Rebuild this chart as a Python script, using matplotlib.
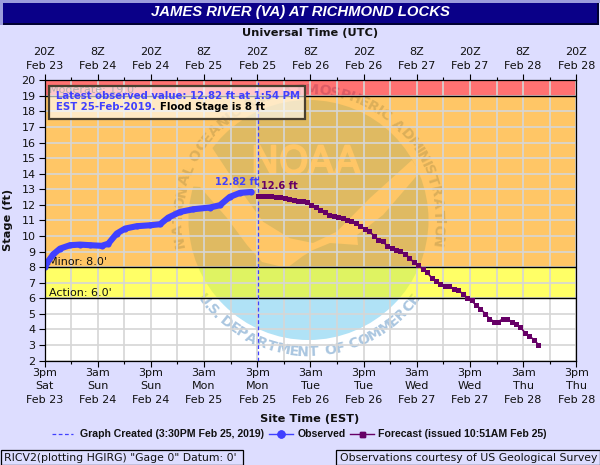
import numpy as np
import matplotlib
matplotlib.use("Agg")
import matplotlib.pyplot as plt
import matplotlib.patheffects as pe
from matplotlib.patches import Rectangle, Polygon, Circle
from matplotlib.transforms import Affine2D
from matplotlib.textpath import TextPath
from matplotlib.font_manager import FontProperties

# ---- data (hours since 3pm Feb 23, stage in ft) ----
obs_hours = [0, 0.34, 2.0, 3.5, 5.75, 8.0, 10.3, 12.9, 14.4, 16.3, 18.2, 20.8, 23.8, 26.1,
             27.9, 30.6, 33.6, 37.3, 39.6, 41.8, 44.1, 46.7]
obs_stage = [8.0, 8.19, 8.83, 9.19, 9.41, 9.45, 9.41, 9.37, 9.51, 10.16, 10.48, 10.63, 10.69, 10.76,
             11.18, 11.55, 11.72, 11.83, 11.98, 12.51, 12.77, 12.83]
fc_stage = [12.6, 12.6, 12.58, 12.55, 12.52, 12.5, 12.45, 12.38, 12.3, 12.25, 12.25, 12.2, 12.0, 11.85,
            11.7, 11.52, 11.37, 11.3, 11.2, 11.13, 11.03, 10.95, 10.83, 10.63, 10.45, 10.3, 10.03,
            9.75, 9.65, 9.38, 9.25, 9.13, 9.02, 8.83, 8.62, 8.30, 8.13, 7.89, 7.66, 7.33, 7.10,
            6.95, 6.80, 6.76, 6.63, 6.52, 6.29, 6.05, 5.86, 5.56, 5.34, 5.02, 4.70, 4.51, 4.51,
            4.66, 4.66, 4.51, 4.32, 4.13, 3.80, 3.57, 3.35, 3.03]
fc_hours = 48.2 + np.arange(len(fc_stage)) * 1.0035
created_hour = 48.1

top_ticks = ["20Z\nFeb 23", "8Z\nFeb 24", "20Z\nFeb 24", "8Z\nFeb 25", "20Z\nFeb 25", "8Z\nFeb 26",
             "20Z\nFeb 26", "8Z\nFeb 27", "20Z\nFeb 27", "8Z\nFeb 28", "20Z\nFeb 28"]
bottom_ticks = ["3pm\nSat\nFeb 23", "3am\nSun\nFeb 24", "3pm\nSun\nFeb 24", "3am\nMon\nFeb 25",
                "3pm\nMon\nFeb 25", "3am\nTue\nFeb 26", "3pm\nTue\nFeb 26", "3am\nWed\nFeb 27",
                "3pm\nWed\nFeb 27", "3am\nThu\nFeb 28", "3pm\nThu\nFeb 28"]
y_ticks = list(range(2, 21))
bands = [(19, 20, "#ff1414"), (8, 19, "#ffa000"), (6, 8, "#ffff00")]
stage_lines = [6, 8, 19]

BG = "#ddddff"; BLUE = "#4040ff"; PURPLE = "#660066"; GRID = "#d6d6d6"
LOGO = "#b0e2f6"; LOGOTXT = "#aac6e0"
W, H = 600, 465
TF = 8.0   # regular text size

fig = plt.figure(figsize=(W/100, H/100), dpi=100, facecolor=BG)
L, R, T, B = 44.5, 576.3, 80.3, 360.6
ax = fig.add_axes([L/W, 1-B/H, (R-L)/W, (B-T)/H])
ax.set_xlim(0, 120); ax.set_ylim(2, 20)
ax.set_facecolor("white")
px = Affine2D().scale(1, -1).translate(0, H)   # reference pixel coordinates

def ftext(x, y, s, **kw):
    kw.setdefault("ha", "center"); kw.setdefault("va", "center")
    return fig.text(x/W, 1-y/H, s, **kw)

# ---- seal behind the bands ----
cx, cy, r = 308.5, 220, 120
ax.add_patch(Circle((cx, cy), r, transform=px, fc=LOGO, ec="none", zorder=1))
gull = [(211, 146), (236.7, 185), (263, 221.7), (290, 238.3), (313, 243), (336.7, 231.7), (370, 198), (412, 160),
        (420, 172), (383, 215), (357, 235), (358, 245), (330, 243), (313, 250), (303, 256), (287, 268),
        (262, 262), (247, 245), (227, 218), (207, 195), (200, 187), (186, 186), (185, 150)]
ax.add_patch(Polygon(gull, closed=True, transform=px, fc="white", ec="none", zorder=1.1))
ax.text(305.5, 163, "NOAA", transform=px, color="white", fontsize=27, family="DejaVu Sans",
        ha="center", va="center", zorder=1.2, clip_on=True,
        path_effects=[pe.withStroke(linewidth=1.4, foreground="white")])

seal_fp = FontProperties(family="DejaVu Sans", weight="bold")
SEAL_PT = 10.2
def char_adv(ch):
    if ch == " ":
        return 5.0
    return TextPath((0, 0), ch, size=SEAL_PT*100/72, prop=seal_fp).get_extents().width + 1.0

def arc_text(s, mid, span, rad, bottom=False):
    adv = np.array([char_adv(c) for c in s])
    adv = adv * (np.radians(span) * rad) / adv.sum()
    pos = np.cumsum(adv) - adv/2 - adv.sum()/2
    for ch, p in zip(s, pos):
        a = mid + np.degrees(p/rad) if bottom else mid - np.degrees(p/rad)
        t = np.radians(a)
        x, y = cx + rad*np.cos(t), cy - rad*np.sin(t)
        rot = a + 90 if bottom else a - 90
        ax.text(x, y, ch, transform=px, color=LOGOTXT, fontsize=SEAL_PT, fontweight="bold",
                family="DejaVu Sans", ha="center", va="center", rotation=rot,
                rotation_mode="anchor", zorder=1.2, clip_on=True)

arc_text("NATIONAL OCEANIC AND ATMOSPHERIC ADMINISTRATION", 90, 204, 130)
arc_text("U.S. DEPARTMENT OF COMMERCE", 270, 110, 132, bottom=True)

# ---- flood bands ----
for lo, hi, c in bands:
    ax.axhspan(lo, hi, fc=c, ec="none", alpha=0.6, zorder=2)

# ---- grid and ticks ----
ax.set_xticks(np.arange(0, 121, 12))
ax.set_xticks(np.arange(6, 120, 12), minor=True)
ax.set_yticks(y_ticks)
ax.set_xticklabels(bottom_ticks, fontsize=TF, linespacing=1.4, color="#111111")
ax.set_yticklabels([str(v) for v in y_ticks], fontsize=TF, color="#111111")
ax.grid(True, which="both", color=GRID, lw=1.2, zorder=3)
ax.set_axisbelow(False)
for gl in ax.get_xgridlines() + ax.get_ygridlines():
    gl.set_zorder(3)
ax.tick_params(axis="x", which="major", length=4, width=0.8, top=True, pad=1.5)
ax.tick_params(axis="x", which="minor", length=2.5, width=0.8, top=True)
ax.tick_params(axis="y", length=4, width=0.8, pad=2.5)
for sp in ax.spines.values():
    sp.set_linewidth(0.9); sp.set_color("black"); sp.set_zorder(6)

for v in stage_lines:
    ax.axhline(v, color="black", lw=1.0, zorder=3.5)

top = ax.secondary_xaxis("top")
top.set_xticks(np.arange(0, 121, 12))
top.set_xticklabels(top_ticks, fontsize=TF, linespacing=1.4, color="#111111")
top.tick_params(axis="x", length=0, pad=7)
top.spines["top"].set_visible(False)

# ---- series ----
ax.axvline(created_hour, color=BLUE, lw=0.9, ls=(0, (3, 2)), zorder=4)
ax.plot(obs_hours, obs_stage, color=BLUE, lw=4.4, marker="o", ms=4.4, mew=0, solid_capstyle="round",
        solid_joinstyle="round", zorder=5)
ax.plot(fc_hours, fc_stage, color=PURPLE, lw=1.2, marker="s", ms=3.6, mew=0, zorder=5)

# ---- stage and point labels ----
ax.text(49, 90, "Moderate: 19.0'", transform=px, fontsize=TF, color="#333333", va="center", zorder=4)
ax.text(48, 262, "Minor: 8.0'", transform=px, fontsize=TF, color="#111111", va="center", zorder=4)
ax.text(49, 293, "Action: 6.0'", transform=px, fontsize=TF, color="#111111", va="center", zorder=4)
ax.text(215, 182, "12.82 ft", transform=px, fontsize=7.1, color=BLUE, fontweight="bold", va="center", zorder=6)
ax.text(261, 186, "12.6 ft", transform=px, fontsize=7.1, color=PURPLE, fontweight="bold", va="center", zorder=6)

# ---- latest value box ----
ax.add_patch(Rectangle((49, 86), 256, 33, transform=px, fc="#ffffff", alpha=0.62, ec="none", zorder=6.5, clip_on=False))
ax.add_patch(Rectangle((49, 86), 256, 33, transform=px, fill=False, ec="#4a4030", lw=1.6, zorder=6.6, clip_on=False))
ax.text(56, 96, "Latest observed value: 12.82 ft at 1:54 PM", transform=px, color=BLUE, fontsize=7.27,
        fontweight="bold", va="center", zorder=7)
ax.text(56, 107, "EST 25-Feb-2019.", transform=px, color=BLUE, fontsize=7.27, fontweight="bold", va="center", zorder=7)
ax.text(160.5, 107, "Flood Stage is 8 ft", transform=px, color="black", fontsize=7.27, fontweight="bold", va="center", zorder=7)

# ---- title bar ----
fig.add_artist(Rectangle((0, 1-3/H), 1, 3/H, transform=fig.transFigure, fc="#9c9cdc", ec="none"))
fig.add_artist(Rectangle((0, 1-25/H), 3/W, 25/H, transform=fig.transFigure, fc="#9c9cdc", ec="none"))
fig.add_artist(Rectangle((3/W, 1-25/H), 595/W, 22/H, transform=fig.transFigure, fc="#0a0088", ec="none"))
fig.add_artist(Rectangle((3/W, 1-25.5/H), 595/W, 2/H, transform=fig.transFigure, fc="#000033", ec="none"))
fig.add_artist(Rectangle((597/W, 1-25/H), 1.5/W, 22/H, transform=fig.transFigure, fc="#000033", ec="none"))
ftext(300, 12.3, "JAMES RIVER (VA) AT RICHMOND LOCKS", color="white", fontsize=10.7, fontweight="bold",
      fontstyle="italic", family="Liberation Sans")

# ---- axis titles ----
ftext(310, 33, "Universal Time (UTC)", fontsize=8.2, fontweight="bold", color="#111111")
ftext(310, 419, "Site Time (EST)", fontsize=8.2, fontweight="bold", color="#111111")
ftext(8, 220, "Stage (ft)", fontsize=8.2, fontweight="bold", rotation=90, color="#111111")

# ---- legend ----
LY = 434
def leg_line(x0, x1, **kw):
    fig.add_artist(plt.Line2D([x0/W, x1/W], [1-LY/H]*2, transform=fig.transFigure, **kw))
leg_line(52, 73, color=BLUE, lw=0.9, ls=(0, (3, 2)))
leg_line(269, 293, color=BLUE, lw=1.0)
leg_line(281, 281, color=BLUE, marker="o", ms=5, lw=0)
leg_line(350, 374, color=PURPLE, lw=1.0)
leg_line(362, 362, color=PURPLE, marker="s", ms=3.6, lw=0)
lg = dict(fontsize=7.6, fontweight="bold", family="Liberation Sans", ha="left", color="#111111")
ftext(80, LY, "Graph Created (3:30PM Feb 25, 2019)", **lg)
ftext(298, LY, "Observed", **lg)
ftext(378, LY, "Forecast (issued 10:51AM Feb 25)", **lg)

# ---- footer boxes ----
fig.add_artist(Rectangle((0.5/W, 0), 242/W, 15.5/H, transform=fig.transFigure, fc="none", ec="black", lw=0.9))
fig.add_artist(Rectangle((335.5/W, 0), 264/W, 15.5/H, transform=fig.transFigure, fc="none", ec="black", lw=0.9))
ftext(4, 458, "RICV2(plotting HGIRG) \"Gage 0\" Datum: 0'", fontsize=7.85, ha="left", color="#111111")
ftext(339.5, 458, "Observations courtesy of US Geological Survey", fontsize=7.85, ha="left", color="#111111")

fig.savefig("out.png", dpi=100, facecolor=BG)
